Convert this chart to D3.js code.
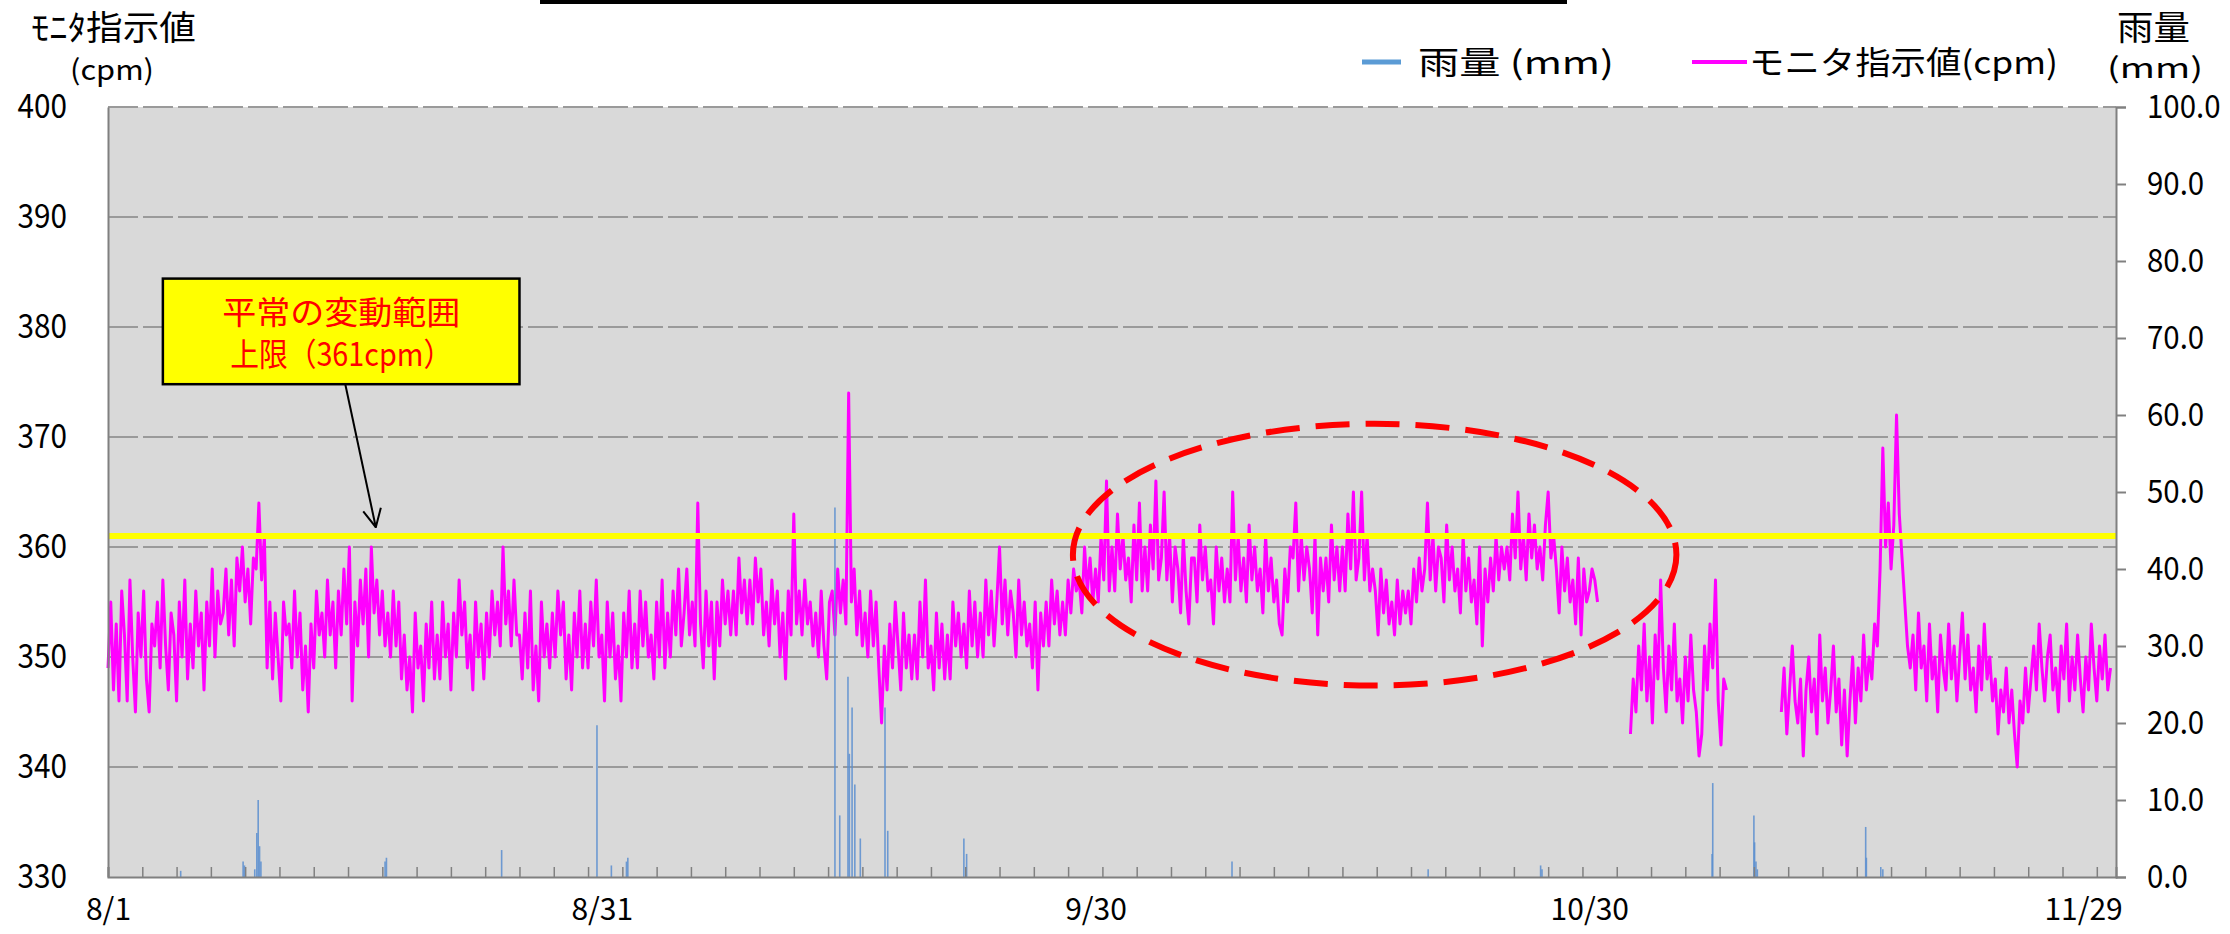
<!DOCTYPE html>
<html>
<head>
<meta charset="utf-8">
<script src="https://cdn.jsdelivr.net/npm/d3@7"></script>
<style>
  body { margin: 0; background: #fff; }
  text { font-family: "Noto Sans CJK JP", "Noto Sans", sans-serif; }
</style>
</head>
<body>
<div id="chart"></div>
<script>
// monitor readings (cpm), one value every 4 hours, three segments with data gaps between
const seg1Start = "08/01 00:00";
const seg1Values = [
  349,355,347,353,346,356, 352,346,357,350,345,354, 350,356,348,345,353,351, 355,349,357,351,347,354,
  352,346,355,350,357,348, 353,349,356,351,354,347, 355,351,358,350,356,353, 354,358,352,357,351,359,
  356,360,355,358,353,359, 358,364,357,361,349,355, 348,354,350,346,355,352, 353,349,356,350,354,347,
  351,345,353,349,356,352, 354,350,357,352,355,349, 356,352,358,353,360,346, 355,351,357,353,358,350,
  360,354,357,352,356,351, 354,350,356,351,355,348, 352,347,350,345,354,349, 351,346,353,349,355,348,
  352,348,355,350,353,347, 354,350,357,352,355,349, 352,347,355,350,353,348, 354,350,356,352,355,351,
  360,353,356,351,357,352, 352,348,354,349,356,347, 351,346,355,350,353,349, 354,350,356,352,355,348,
  352,347,354,350,356,349, 353,349,355,351,357,350, 352,346,355,350,354,348, 351,346,354,350,356,349,
  353,349,356,351,355,350, 352,348,355,350,357,349, 354,350,356,352,358,351, 354,358,352,355,351,364,
  353,349,356,351,355,348, 355,351,357,353,356,352, 356,352,359,354,357,353, 357,353,359,355,358,352,
  355,351,357,353,356,350, 354,348,356,352,363,353, 356,352,357,353,355,351, 354,350,356,351,348,355,
  356,352,358,354,357,353, 374,355,358,352,356,351, 354,350,356,351,355,349, 344,351,347,353,349,355,
  351,347,354,349,352,348, 352,348,355,350,357,349, 351,347,354,349,353,348, 352,348,355,351,354,350,
  353,349,356,351,355,350, 354,350,357,352,356,351, 355,360,353,357,352,356, 354,350,357,352,355,351,
  353,349,355,347,354,351, 355,351,357,353,356,352, 355,352,357,354,358,356, 357,354,360,356,359,355,
  358,355,361,357,366,356, 360,356,363,358,361,357, 359,355,362,357,364,356, 360,356,362,358,366,357,
  359,365,357,361,355,360, 358,354,361,356,353,359, 359,355,362,357,360,356, 357,353,360,356,359,355,
  358,355,365,357,361,356, 359,355,362,357,360,356, 358,354,361,356,359,355, 357,353,352,358,355,360,
  359,364,356,361,357,360, 358,354,361,352,359,356, 359,355,362,357,360,356, 360,356,363,358,365,357,
  359,365,357,361,356,358, 356,352,358,354,357,353, 355,352,357,353,356,354, 356,353,358,355,359,356,
  358,364,357,361,356,360, 359,355,362,357,360,356, 358,354,361,356,359,355, 357,353,360,351,358,355,
  359,356,361,357,360,358, 360,357,363,359,365,358, 361,357,363,359,362,358, 360,357,362,365,359,361,
  358,354,360,356,359,355, 357,353,359,352,358,355, 356,358,357,355
];
const seg2Start = "11/01 12:00";
const seg2Values = [
  343,348,345,351,347,353, 346,350,344,352,348,357, 349,345,351,347,353,346,
  348,344,350,346,352,347, 345,341,343,351,347,353, 349,357,346,342,348,347
];
const seg3Start = "11/10 16:00";
const seg3Values = [
  345,349,343,347,351,346,344,348,341,347,350,345,
  348,343,352,346,349,344,347,351,345,348,342,347,
  341,346,350,344,349,346,352,347,350,348,353,351,
  358,369,360,364,358,362,372,363,359,355,351,349,
  352,347,354,349,351,346,353,348,350,345,352,349,
  347,353,348,351,346,350,354,348,352,347,349,345,
  351,347,353,348,350,346,348,343,347,345,349,344,
  347,343,340,346,344,349,345,348,351,347,353,349,
  346,350,352,347,349,345,351,348,353,346,350,347,
  352,348,345,350,347,353,349,346,351,348,352,347,349
];
const stepHours = 4;

// hourly rainfall (mm), only the hours with rain
const rainTimes = [
  "08/05 10:00","08/09 05:00","08/09 07:00","08/09 22:00","08/10 01:00","08/10 03:00","08/10 05:00","08/10 07:00",
  "08/17 20:00","08/17 22:00","08/24 22:00","08/30 17:00","08/31 14:00","09/01 12:00","09/01 14:00",
  "09/14 04:00","09/14 11:00","09/14 23:00","09/15 01:00","09/15 05:00","09/15 09:00","09/15 17:00",
  "09/17 05:00","09/17 09:00","09/22 00:00","09/22 04:00","10/08 07:00","10/20 05:00","10/27 01:00","10/27 03:00",
  "11/06 11:00","11/06 12:00","11/09 00:00","11/09 01:00","11/09 03:00","11/09 05:00",
  "11/15 19:00","11/15 20:00","11/16 17:00","11/16 20:00"
];
const rainMm = [
  0.8,2.0,1.5,1.0,5.7,10.0,4.0,2.0,
  2.0,2.5,3.5,19.7,1.5,2.0,2.5,
  48.0,8.0,26.0,16.0,22.0,12.0,5.0,
  22.0,6.0,5.0,3.0,2.0,1.0,1.5,1.0,
  3.0,12.2,8.0,4.5,2.0,1.0,
  6.5,2.5,1.3,1.0
];

const cpmTicks = [330, 340, 350, 360, 370, 380, 390, 400];
const mmTicks = [0, 10, 20, 30, 40, 50, 60, 70, 80, 90, 100];
const dateLabels = ["08/01", "08/31", "09/30", "10/30", "11/29"];
const limitValue = 361;

const year = 2013;
const parse = s => d3.timeParse("%Y/%m/%d %H:%M")(year + "/" + s);

function toSeries(start, values) {
  const t0 = parse(start);
  return values.map((v, i) => ({ t: d3.timeHour.offset(t0, i * stepHours), v }));
}
const segments = [
  toSeries(seg1Start, seg1Values),
  toSeries(seg2Start, seg2Values),
  toSeries(seg3Start, seg3Values)
];
const rain = rainTimes.map((s, i) => ({ t: parse(s), v: rainMm[i] }));

const width = 2230, height = 934;
const margin = { top: 107, right: 114, bottom: 57, left: 108 };

const x = d3.scaleTime()
  .domain([parse("08/01 00:00"), parse("12/01 00:00")])
  .range([margin.left, width - margin.right]);
const yL = d3.scaleLinear().domain([330, 400]).range([height - margin.bottom, margin.top]);
const yR = d3.scaleLinear().domain([0, 100]).range([height - margin.bottom, margin.top]);

const svg = d3.select("#chart").append("svg")
  .attr("width", width).attr("height", height)
  .attr("viewBox", [0, 0, width, height]);

// squeeze a label horizontally, the original font is narrow and tall
function narrow(sel, k) {
  sel.each(function () {
    const w = this.getComputedTextLength();
    d3.select(this).attr("textLength", w * k).attr("lengthAdjust", "spacingAndGlyphs");
  });
}

// plot background
svg.append("rect")
  .attr("x", margin.left).attr("y", margin.top)
  .attr("width", width - margin.left - margin.right)
  .attr("height", height - margin.top - margin.bottom)
  .attr("fill", "#d9d9d9");

// dashed gridlines
svg.append("g").selectAll("line")
  .data(cpmTicks.slice(1))
  .join("line")
  .attr("x1", margin.left).attr("x2", width - margin.right)
  .attr("y1", d => yL(d)).attr("y2", d => yL(d))
  .attr("stroke", "#9a9a9a").attr("stroke-width", 2)
  .attr("stroke-dasharray", "30,5");

// monitor line
const line = d3.line().x(d => x(d.t)).y(d => yL(d.v));
svg.append("g").selectAll("path")
  .data(segments)
  .join("path")
  .attr("d", line)
  .attr("fill", "none")
  .attr("stroke", "#ff00ff")
  .attr("stroke-width", 3)
  .attr("stroke-linejoin", "round");

// rainfall bars
svg.append("g").selectAll("line")
  .data(rain)
  .join("line")
  .attr("x1", d => x(d.t)).attr("x2", d => x(d.t))
  .attr("y1", yR(0)).attr("y2", d => yR(d.v))
  .attr("stroke", "#5b8fd0").attr("stroke-width", 1.6)
  .attr("opacity", 0.85);

// upper limit line
svg.append("line")
  .attr("x1", margin.left).attr("x2", width - margin.right)
  .attr("y1", yL(limitValue)).attr("y2", yL(limitValue))
  .attr("stroke", "#ffff00").attr("stroke-width", 6);

// axes
const minorTicks = d3.range(0, 122 * 24, 50).map(h => d3.timeHour.offset(x.domain()[0], h));
const xAxis = svg.append("g")
  .attr("transform", `translate(0,${height - margin.bottom})`)
  .call(d3.axisBottom(x).tickValues(minorTicks).tickSize(-10).tickFormat(""));
xAxis.select(".domain").attr("stroke", "#808080").attr("stroke-width", 2);
xAxis.selectAll(".tick line").attr("stroke", "#808080").attr("stroke-width", 1.5);

const xLabels = svg.append("g")
  .attr("transform", `translate(0,${height - margin.bottom})`)
  .call(d3.axisBottom(x).tickValues(dateLabels.map(s => parse(s + " 00:00")))
    .tickSize(0).tickPadding(22).tickFormat(d3.timeFormat("%-m/%-d")));
xLabels.select(".domain").remove();
xLabels.selectAll("text").attr("font-size", 30).attr("fill", "#000")
  .style("font-family", '"Noto Sans CJK JP", sans-serif');

const yAxisL = svg.append("g")
  .attr("transform", `translate(${margin.left},0)`)
  .call(d3.axisLeft(yL).tickValues(cpmTicks).tickSize(0).tickPadding(41));
yAxisL.select(".domain").attr("stroke", "#808080").attr("stroke-width", 2);
yAxisL.selectAll("text").attr("font-size", 33).attr("fill", "#000")
  .style("font-family", '"Noto Sans CJK JP", sans-serif')
  .call(narrow, 0.9);

const yAxisR = svg.append("g")
  .attr("transform", `translate(${width - margin.right},0)`)
  .call(d3.axisRight(yR).tickValues(mmTicks).tickSize(10).tickPadding(21).tickFormat(d3.format(".1f")));
yAxisR.select(".domain").attr("stroke", "#808080").attr("stroke-width", 2);
yAxisR.selectAll(".tick line").attr("stroke", "#808080").attr("stroke-width", 2);
yAxisR.selectAll("text").attr("font-size", 32).attr("fill", "#000")
  .style("font-family", '"Noto Sans CJK JP", sans-serif')
  .call(narrow, 0.92);

// axis titles (two lines each)
const titleL = svg.append("text");
titleL.append("tspan").attr("x", 31).attr("y", 40).attr("font-size", 34)
  .attr("textLength", 165).attr("lengthAdjust", "spacingAndGlyphs").text("ﾓﾆﾀ指示値");
titleL.append("tspan").attr("x", 70).attr("y", 80).attr("font-size", 28)
  .attr("textLength", 84).attr("lengthAdjust", "spacingAndGlyphs").text("(cpm)");

const titleR = svg.append("text");
titleR.append("tspan").attr("x", 2117).attr("y", 40).attr("font-size", 34)
  .attr("textLength", 73).attr("lengthAdjust", "spacingAndGlyphs").text("雨量");
titleR.append("tspan").attr("x", 2107).attr("y", 78).attr("font-size", 28)
  .attr("textLength", 96).attr("lengthAdjust", "spacingAndGlyphs").text("(mm)");

// legend
const legend = svg.append("g");
legend.append("line").attr("x1", 1362).attr("x2", 1401).attr("y1", 62).attr("y2", 62)
  .attr("stroke", "#5b9bd5").attr("stroke-width", 5);
legend.append("text").attr("x", 1418).attr("y", 74).attr("font-size", 32)
  .attr("textLength", 196).attr("lengthAdjust", "spacingAndGlyphs").text("雨量 (mm)");
legend.append("line").attr("x1", 1692).attr("x2", 1747).attr("y1", 62).attr("y2", 62)
  .attr("stroke", "#ff00ff").attr("stroke-width", 4);
legend.append("text").attr("x", 1749).attr("y", 74).attr("font-size", 32)
  .attr("textLength", 309).attr("lengthAdjust", "spacingAndGlyphs").text("モニタ指示値(cpm)");

// cut-off title frame at the top
svg.append("rect").attr("x", 540).attr("y", 0).attr("width", 1027).attr("height", 4).attr("fill", "#000");

// callout box and arrow
const boxX0 = x(parse("08/04 08:00")), boxX1 = x(parse("08/26 00:00"));
const boxY0 = yL(384.4), boxY1 = yL(374.8);
svg.append("defs").append("marker")
  .attr("id", "openArrow")
  .attr("viewBox", "0 0 20 20").attr("refX", 19).attr("refY", 10)
  .attr("markerWidth", 20).attr("markerHeight", 20)
  .attr("markerUnits", "userSpaceOnUse").attr("orient", "auto")
  .append("path").attr("d", "M1,1 L19,10 L1,19")
  .attr("fill", "none").attr("stroke", "#000").attr("stroke-width", 2);
svg.append("line")
  .attr("x1", x(parse("08/15 10:00"))).attr("y1", boxY1)
  .attr("x2", x(parse("08/17 06:30"))).attr("y2", yL(limitValue + 0.8))
  .attr("stroke", "#000").attr("stroke-width", 2)
  .attr("marker-end", "url(#openArrow)");
svg.append("rect")
  .attr("x", boxX0).attr("y", boxY0)
  .attr("width", boxX1 - boxX0).attr("height", boxY1 - boxY0)
  .attr("fill", "#ffff00").attr("stroke", "#000").attr("stroke-width", 2.5);
const boxText = svg.append("text")
  .attr("text-anchor", "middle").attr("font-size", 32).attr("fill", "#ff0000");
boxText.append("tspan").attr("x", (boxX0 + boxX1) / 2).attr("y", boxY0 + 45)
  .attr("textLength", 238).attr("lengthAdjust", "spacingAndGlyphs").text("平常の変動範囲");
boxText.append("tspan").attr("x", (boxX0 + boxX1) / 2).attr("y", boxY0 + 87)
  .attr("textLength", 222).attr("lengthAdjust", "spacingAndGlyphs").text("上限（361cpm）");

// dashed ellipse around the raised period
const ellCenter = parse("10/16 23:00"), ellValue = 359.3;
const cx = x(ellCenter), cy = yL(ellValue);
svg.append("ellipse")
  .attr("cx", cx).attr("cy", cy)
  .attr("rx", x(d3.timeHour.offset(ellCenter, 440)) - cx)
  .attr("ry", yL(ellValue - 11.9) - cy)
  .attr("fill", "none").attr("stroke", "#ff0000").attr("stroke-width", 6)
  .attr("stroke-dasharray", "34,16");
</script>
</body>
</html>
